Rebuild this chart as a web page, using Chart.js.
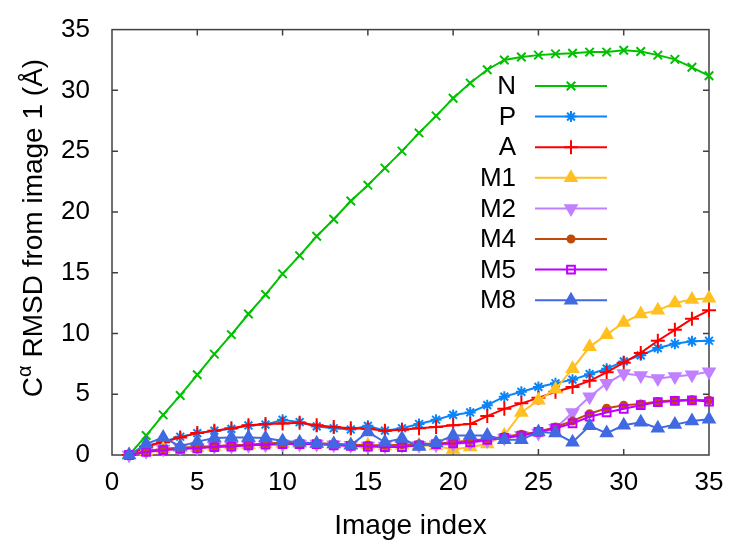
<!DOCTYPE html>
<html>
<head>
<meta charset="utf-8">
<script src="https://cdn.jsdelivr.net/npm/chart.js@4"></script>
<style>
    html, body { margin: 0; padding: 0; background: #ffffff; }
</style>
</head>
<body>
<canvas id="rmsd" width="729" height="547"></canvas>
<script>
// Data
const imageIndex = [];
for (let i = 1; i <= 35; i++) imageIndex.push(i);

const rmsdN  = [0, 1.6, 3.3, 4.9, 6.6, 8.3, 9.9, 11.6, 13.2, 14.9, 16.4, 18.0, 19.4, 20.9, 22.2, 23.6, 25.0, 26.5, 27.9, 29.35, 30.6, 31.7, 32.5, 32.75, 32.9, 33.0, 33.05, 33.15, 33.15, 33.3, 33.2, 32.9, 32.55, 31.9, 31.2];
const rmsdP  = [0, 0.75, 1.1, 1.5, 1.8, 2.0, 2.15, 2.43, 2.5, 2.9, 2.7, 2.35, 2.2, 2.1, 2.4, 2.0, 2.2, 2.55, 2.9, 3.3, 3.5, 4.1, 4.8, 5.2, 5.6, 5.9, 6.2, 6.65, 7.1, 7.7, 8.2, 8.8, 9.15, 9.35, 9.4];
const rmsdA  = [0, 0.7, 1.05, 1.45, 1.8, 2.0, 2.2, 2.45, 2.55, 2.6, 2.65, 2.45, 2.3, 2.2, 2.15, 2.0, 2.07, 2.2, 2.3, 2.45, 2.55, 3.2, 3.8, 4.25, 4.7, 5.2, 5.6, 6.1, 6.8, 7.6, 8.4, 9.4, 10.3, 11.2, 11.9];
const rmsdM1 = [0, 0.3, 0.5, 0.6, 0.6, 0.7, 0.8, 0.85, 0.9, 0.95, 0.95, 0.95, 0.9, 0.85, 0.8, 0.75, 0.8, 0.8, 0.75, 0.45, 0.65, 0.9, 1.6, 3.5, 4.5, 5.4, 7.1, 8.9, 9.9, 10.9, 11.6, 11.9, 12.5, 12.8, 12.9];
const rmsdM2 = [0, 0.3, 0.5, 0.6, 0.6, 0.7, 0.75, 0.8, 0.85, 0.9, 0.9, 0.9, 0.85, 0.8, 0.75, 0.75, 0.8, 0.8, 0.85, 0.9, 1.0, 1.2, 1.4, 1.6, 1.8, 2.2, 3.5, 4.8, 5.9, 6.7, 6.55, 6.3, 6.45, 6.6, 6.85];
const rmsdM4 = [0, 0.35, 0.5, 0.6, 0.65, 0.75, 0.8, 0.85, 0.95, 1.0, 1.0, 0.95, 0.9, 0.85, 0.8, 0.8, 0.85, 0.9, 0.95, 1.05, 1.2, 1.3, 1.5, 1.7, 1.9, 2.3, 2.8, 3.4, 3.85, 4.1, 4.2, 4.4, 4.5, 4.55, 4.5];
const rmsdM5 = [0, 0.25, 0.4, 0.5, 0.55, 0.65, 0.7, 0.8, 0.85, 0.9, 0.9, 0.9, 0.8, 0.75, 0.7, 0.65, 0.65, 0.8, 0.9, 0.95, 1.05, 1.25, 1.4, 1.6, 1.9, 2.2, 2.6, 3.15, 3.5, 3.8, 4.1, 4.35, 4.45, 4.5, 4.4];
const rmsdM8 = [0, 0.9, 1.45, 0.7, 1.1, 1.4, 1.45, 1.45, 1.4, 1.15, 1.05, 0.95, 0.9, 0.8, 1.9, 1.05, 1.35, 0.7, 1.0, 1.6, 1.6, 1.6, 1.25, 1.25, 1.9, 1.8, 1.05, 2.4, 1.8, 2.45, 2.7, 2.2, 2.5, 2.8, 2.95];

const seriesNames  = ["N", "P", "A", "M1", "M2", "M4", "M5", "M8"];
const seriesValues = [rmsdN, rmsdP, rmsdA, rmsdM1, rmsdM2, rmsdM4, rmsdM5, rmsdM8];

// Styles
const seriesColors = ["#00c000", "#0a85f8", "#ff0000", "#ffc020", "#c080ff", "#c04a0a", "#c000ff", "#4169e1"];
const seriesMarks = [
    { style: "crossRot", radius: 6, rot: 0, fill: true },
    { style: "star", radius: 5.5, rot: 0, fill: true },
    { style: "cross", radius: 7, rot: 0, fill: true },
    { style: "triangle", radius: 6.5, rot: 0, fill: true },
    { style: "triangle", radius: 6.5, rot: 180, fill: true },
    { style: "circle", radius: 3.5, rot: 0, fill: true },
    { style: "rect", radius: 5.5, rot: 0, fill: false },
    { style: "triangle", radius: 6.5, rot: 0, fill: true }
];

const FONT = "'Liberation Sans', Arial, sans-serif";
const FSIZE = 26;   // ticks and legend
const TSIZE = 28;   // axis titles

const datasets = [];
for (var i = 0; i < seriesNames.length; i++) {
    const pts = imageIndex.map((x, k) => ({ x: x, y: seriesValues[i][k] }));
    const m = seriesMarks[i];
    datasets.push({
        label: seriesNames[i],
        data: pts,
        borderColor: seriesColors[i],
        backgroundColor: seriesColors[i],
        borderWidth: 2,
        pointStyle: m.style,
        pointRadius: m.radius,
        pointRotation: m.rot,
        pointBorderWidth: 2,
        pointBorderColor: seriesColors[i],
        pointBackgroundColor: m.fill ? seriesColors[i] : "rgba(0,0,0,0)",
        tension: 0,
        clip: false,
        order: seriesNames.length - 1 - i
    });
}

// Frame with inward ticks on all four sides
const framePlugin = {
    id: "frame",
    beforeDatasetsDraw(chart) {
        const ctx = chart.ctx;
        const a = chart.chartArea;
        const xs = chart.scales.x, ys = chart.scales.y;
        ctx.save();
        ctx.strokeStyle = "#404040";
        ctx.lineWidth = 1.5;
        ctx.strokeRect(a.left, a.top, a.right - a.left, a.bottom - a.top);
        ctx.beginPath();
        for (let v = 5; v < 35; v += 5) {
            const px = xs.getPixelForValue(v);
            ctx.moveTo(px, a.bottom); ctx.lineTo(px, a.bottom - 6);
            ctx.moveTo(px, a.top); ctx.lineTo(px, a.top + 6);
            const py = ys.getPixelForValue(v);
            ctx.moveTo(a.left, py); ctx.lineTo(a.left + 6, py);
            ctx.moveTo(a.right, py); ctx.lineTo(a.right - 6, py);
        }
        ctx.stroke();
        ctx.restore();
    }
};

// Axis titles
const titlePlugin = {
    id: "titles",
    afterDraw(chart) {
        const ctx = chart.ctx;
        const a = chart.chartArea;
        ctx.save();
        ctx.fillStyle = "#000000";
        ctx.font = TSIZE + "px " + FONT;
        ctx.textAlign = "center";
        ctx.textBaseline = "middle";
        ctx.fillText("Image index", (a.left + a.right) / 2, 526);

        // y title with superscript alpha
        ctx.translate(34, 228);
        ctx.rotate(-Math.PI / 2);
        ctx.textAlign = "left";
        ctx.textBaseline = "middle";
        const big = TSIZE + "px " + FONT, small = Math.round(TSIZE * 0.7) + "px " + FONT;
        const t1 = "C", t2 = "\u03b1", t3 = " RMSD from image 1 (\u00c5)";
        ctx.font = big; const w1 = ctx.measureText(t1).width, w3 = ctx.measureText(t3).width;
        ctx.font = small; const w2 = ctx.measureText(t2).width;
        let x0 = -(w1 + w2 + w3) / 2;
        ctx.font = big; ctx.fillText(t1, x0, 0);
        ctx.font = small; ctx.fillText(t2, x0 + w1, -9);
        ctx.font = big; ctx.fillText(t3, x0 + w1 + w2, 0);
        ctx.restore();
    }
};

// Legend: right-aligned names, line sample with marker
const legendPlugin = {
    id: "sampleLegend",
    afterDraw(chart) {
        const ctx = chart.ctx;
        ctx.save();
        for (var i = 0; i < seriesNames.length; i++) {
            const y = 86 + i * 30.6;
            ctx.fillStyle = "#000000";
            ctx.font = FSIZE + "px " + FONT;
            ctx.textAlign = "right";
            ctx.textBaseline = "middle";
            ctx.fillText(seriesNames[i], 516, y + 1);

            ctx.strokeStyle = seriesColors[i];
            ctx.lineWidth = 2;
            ctx.beginPath();
            ctx.moveTo(535, y); ctx.lineTo(607, y);
            ctx.stroke();

            const m = seriesMarks[i];
            ctx.fillStyle = m.fill ? seriesColors[i] : "rgba(0,0,0,0)";
            Chart.helpers.drawPoint(ctx, { pointStyle: m.style, radius: m.radius, rotation: m.rot, borderWidth: 2 }, 571, y);
        }
        ctx.restore();
    }
};

new Chart(document.getElementById("rmsd"), {
    type: "line",
    data: { datasets: datasets },
    options: {
        responsive: false,
        animation: false,
        layout: { padding: { top: 22, right: 20, left: 0, bottom: 0 } },
        plugins: { legend: { display: false }, tooltip: { enabled: false } },
        scales: {
            x: {
                type: "linear", min: 0, max: 35,
                grid: { display: false }, border: { display: false },
                ticks: { stepSize: 5, color: "#000000", font: { size: FSIZE, family: FONT }, padding: 4, maxRotation: 0 },
                afterFit: function (s) { s.height = 92; }
            },
            y: {
                type: "linear", min: 0, max: 35,
                grid: { display: false }, border: { display: false },
                ticks: { stepSize: 5, color: "#000000", font: { size: FSIZE, family: FONT }, padding: 14 },
                afterFit: function (s) { s.width = 112; }
            }
        }
    },
    plugins: [framePlugin, titlePlugin, legendPlugin]
});
</script>
</body>
</html>
